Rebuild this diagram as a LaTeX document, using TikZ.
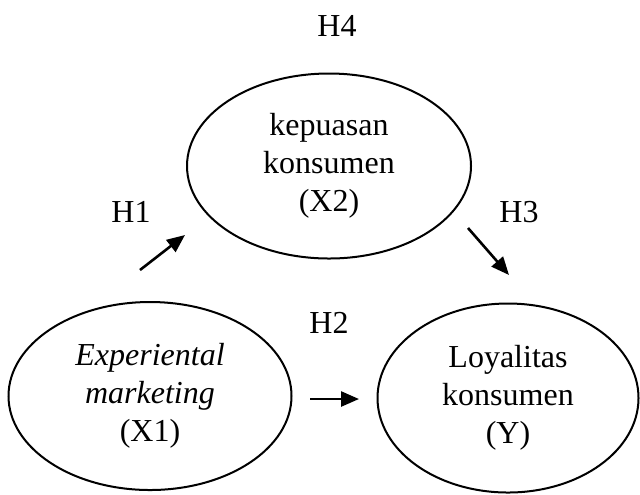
\documentclass[tikz,border=0pt]{standalone}
\usepackage{fontspec}
\setmainfont{Liberation Serif}
\usetikzlibrary{arrows.meta,shapes.geometric}

\begin{document}
\begin{tikzpicture}[x=0.5pt,y=-0.5pt,
  var/.style={ellipse,draw,line width=1pt,inner sep=0pt,align=center,
    font=\fontsize{16}{19}\selectfont},
  hyp/.style={font=\fontsize{16}{19}\selectfont},
  path/.style={line width=1.3pt,-{Triangle[length=9pt,width=7.5pt]}}]
  \useasboundingbox (0,0) rectangle (640,494);

  \node[var,minimum width=142pt,minimum height=92.5pt] (X2) at (329,166)
    {kepuasan\\konsumen\\(X2)};
  \node[var,minimum width=141.5pt,minimum height=94pt] (X1) at (150,396)
    {\textit{Experiental}\\\textit{marketing}\\(X1)};
  \node[var,minimum width=130.5pt,minimum height=94.5pt] (Y) at (508,398)
    {Loyalitas\\konsumen\\(Y)};

  \node[hyp] (H4) at (337,26) {H4};
  \node[hyp] (H1) at (131,212) {H1};
  \node[hyp] (H3) at (519,212) {H3};
  \node[hyp] (H2) at (329,323) {H2};

  \coordinate (a1) at (140,270);
  \coordinate (b1) at (185,235);
  \coordinate (a3) at (468,228);
  \coordinate (b3) at (509,275);
  \coordinate (a2) at (310,399);
  \coordinate (b2) at (359,399);

  \draw[path] (a1) -- (b1);
  \draw[path] (a3) -- (b3);
  \draw[path] (a2) -- (b2);
\end{tikzpicture}
\end{document}
